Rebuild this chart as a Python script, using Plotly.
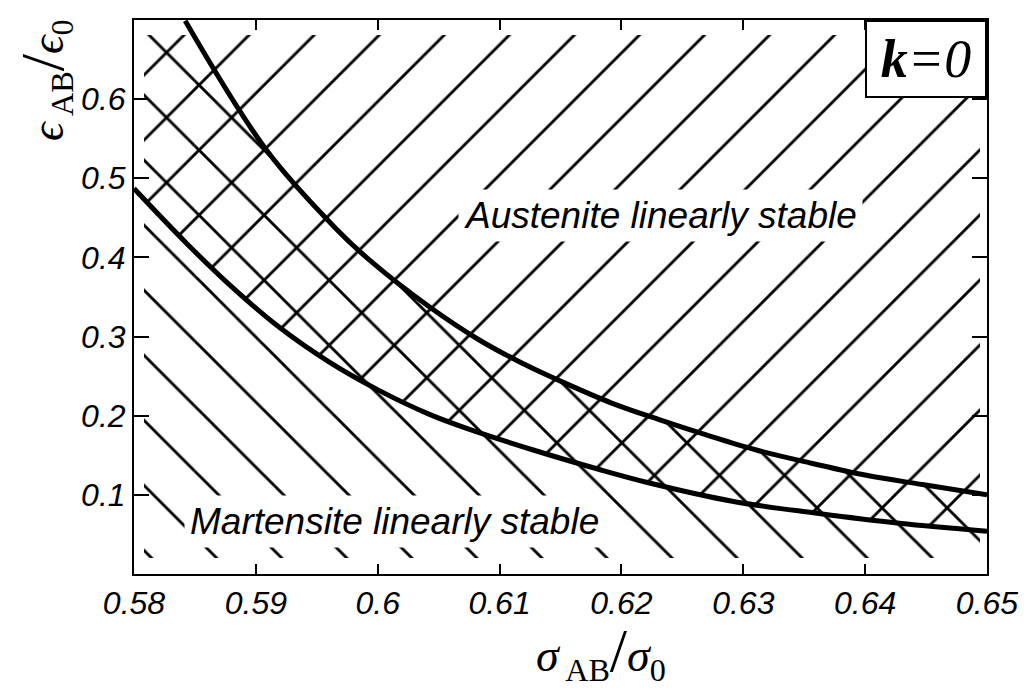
import numpy as np
import plotly.graph_objects as go

# ---------------- data ----------------
x_tickvals = [0.58, 0.59, 0.60, 0.61, 0.62, 0.63, 0.64, 0.65]
x_ticktext = ["0.58", "0.59", "0.6", "0.61", "0.62", "0.63", "0.64", "0.65"]
y_tickvals = [0.1, 0.2, 0.3, 0.4, 0.5, 0.6]
y_ticktext = ["0.1", "0.2", "0.3", "0.4", "0.5", "0.6"]

# upper boundary (austenite stability limit)
upper_x = [0.5842, 0.5909, 0.5966, 0.5996, 0.6042, 0.6083, 0.6119, 0.6154,
           0.6192, 0.6231, 0.6269, 0.6310, 0.6356, 0.6400, 0.6447, 0.6500]
upper_y = [0.699, 0.535, 0.436, 0.393, 0.338, 0.296, 0.266, 0.241,
           0.216, 0.195, 0.176, 0.157, 0.140, 0.125, 0.113, 0.100]

# lower boundary (martensite stability limit)
lower_x = [0.5800, 0.5843, 0.5878, 0.5919, 0.5960, 0.6001, 0.6042, 0.6073,
           0.6127, 0.6182, 0.6223, 0.6291, 0.6359, 0.6428, 0.6500]
lower_y = [0.487, 0.418, 0.366, 0.312, 0.268, 0.232, 0.202, 0.184,
           0.157, 0.132, 0.115, 0.092, 0.077, 0.064, 0.054]

x_range = [0.58, 0.65]
y_range = [0.0, 0.70]

label_austenite = "Austenite linearly stable"
label_martensite = "Martensite linearly stable"

# ---------------- layout geometry ----------------
W, H = 1029, 688
ML, MR, MT, MB = 134, 42, 20, 114
pw = W - ML - MR
ph = H - MT - MB
px_x = pw / (x_range[1] - x_range[0])   # pixels per x unit
px_y = ph / (y_range[1] - y_range[0])   # pixels per y unit

# hatch areas are inset a little from the frame, as in the reference
xl = x_range[0] + 10 / px_x
xr = x_range[1] - 7 / px_x
yt = y_range[1] - 15 / px_y
yb = y_range[0] + 16 / px_y

HATCH_SIZE = 46
HATCH_SOLID = 0.062
clear = "rgba(0,0,0,0)"

fig = go.Figure()

# region above the lower curve: "/" hatch
lx = [xl] + [x for x in lower_x if xl < x < xr] + [xr]
ly = list(np.interp(lx, lower_x, lower_y))
fig.add_trace(go.Scatter(x=[xl, xr], y=[yt, yt], mode="lines",
                         line=dict(width=0, color=clear), hoverinfo="skip"))
fig.add_trace(go.Scatter(x=lx, y=ly, mode="lines",
                         line=dict(width=0, color=clear, shape="spline"),
                         fill="tonexty", fillcolor=clear,
                         fillpattern=dict(shape="/", size=HATCH_SIZE, solidity=HATCH_SOLID,
                                          fgcolor="black", bgcolor=clear, fgopacity=1),
                         hoverinfo="skip"))

# region below the upper curve: "\" hatch
ux_rev = upper_x[::-1]
uy_rev = upper_y[::-1]
xc = float(np.interp(yt, uy_rev, ux_rev))
ux = [xc] + [x for x in upper_x if xc < x < xr] + [xr]
uy = list(np.interp(ux, upper_x, upper_y))
fig.add_trace(go.Scatter(x=[xl, xc, xc, xl, xl], y=[yb, yb, yt, yt, yb], mode="lines",
                         line=dict(width=0, color=clear),
                         fill="toself", fillcolor=clear,
                         fillpattern=dict(shape="\\", size=HATCH_SIZE, solidity=HATCH_SOLID,
                                          fgcolor="black", bgcolor=clear, fgopacity=1),
                         hoverinfo="skip"))
fig.add_trace(go.Scatter(x=[xc, xr], y=[yb, yb], mode="lines",
                         line=dict(width=0, color=clear), hoverinfo="skip"))
fig.add_trace(go.Scatter(x=ux, y=uy, mode="lines",
                         line=dict(width=0, color=clear, shape="spline"),
                         fill="tonexty", fillcolor=clear,
                         fillpattern=dict(shape="\\", size=HATCH_SIZE, solidity=HATCH_SOLID,
                                          fgcolor="black", bgcolor=clear, fgopacity=1),
                         hoverinfo="skip"))

# the two boundary curves
fig.add_trace(go.Scatter(x=upper_x, y=upper_y, mode="lines",
                         line=dict(color="black", width=5, shape="spline")))
fig.add_trace(go.Scatter(x=lower_x, y=lower_y, mode="lines",
                         line=dict(color="black", width=5, shape="spline")))

sans_it = dict(family="Liberation Sans, Arial, sans-serif", size=37, color="black", style="italic")
serif = "Liberation Serif, Times New Roman, serif"
hs = "\u2009"

annotations = [
    dict(x=0.6232, y=0.453, xref="x", yref="y", text=label_austenite, showarrow=False,
         font=sans_it, bgcolor="white", borderpad=5, xanchor="center", yanchor="middle"),
    dict(x=0.6014, y=0.066, xref="x", yref="y", text=label_martensite, showarrow=False,
         font=sans_it, bgcolor="white", borderpad=5, xanchor="center", yanchor="middle"),
    dict(x=1, y=1, xref="paper", yref="paper", xanchor="right", yanchor="top",
         text="<b><i>k</i></b><i>=0</i>", showarrow=False,
         font=dict(family=serif, size=54, color="black"),
         bgcolor="white", bordercolor="black", borderwidth=2, borderpad=0,
         width=118, height=74),
    dict(x=(601 - ML) / pw, y=-(652 - (H - MB)) / ph, xref="paper", yref="paper",
         text="<i>σ</i><sub>" + hs + "AB</sub><span style='font-size:62px'>/</span><i>σ</i><sub>0</sub>",
         showarrow=False, font=dict(family=serif, size=46, color="black"),
         xanchor="center", yanchor="middle"),
    dict(x=(44 - ML) / pw, y=((H - MB) - 80) / ph, xref="paper", yref="paper",
         text="<i>ϵ</i><sub>" + hs + "AB</sub><span style='font-size:62px'>/</span><i>ϵ</i><sub>0</sub>",
         showarrow=False, textangle=-90, font=dict(family=serif, size=46, color="black"),
         xanchor="center", yanchor="middle"),
]

tickfont = dict(family="Liberation Sans, Arial, sans-serif", size=32, color="black", style="italic")

fig.update_layout(
    width=W, height=H,
    margin=dict(l=ML, r=MR, t=MT, b=MB, pad=0),
    paper_bgcolor="white", plot_bgcolor="white",
    showlegend=False,
    annotations=annotations,
    xaxis=dict(range=x_range, tickvals=x_tickvals, ticktext=x_ticktext,
               ticks="inside", ticklen=10, tickwidth=2, tickcolor="black",
               showline=True, linecolor="black", linewidth=2, mirror="ticks",
               showgrid=False, zeroline=False, tickfont=tickfont, fixedrange=True),
    yaxis=dict(range=y_range, tickvals=y_tickvals, ticktext=y_ticktext,
               ticks="inside", ticklen=15, tickwidth=2, tickcolor="black",
               showline=True, linecolor="black", linewidth=2, mirror="ticks",
               showgrid=False, zeroline=False, tickfont=tickfont, fixedrange=True),
)

fig.write_html("out.html", config={"displayModeBar": False})
